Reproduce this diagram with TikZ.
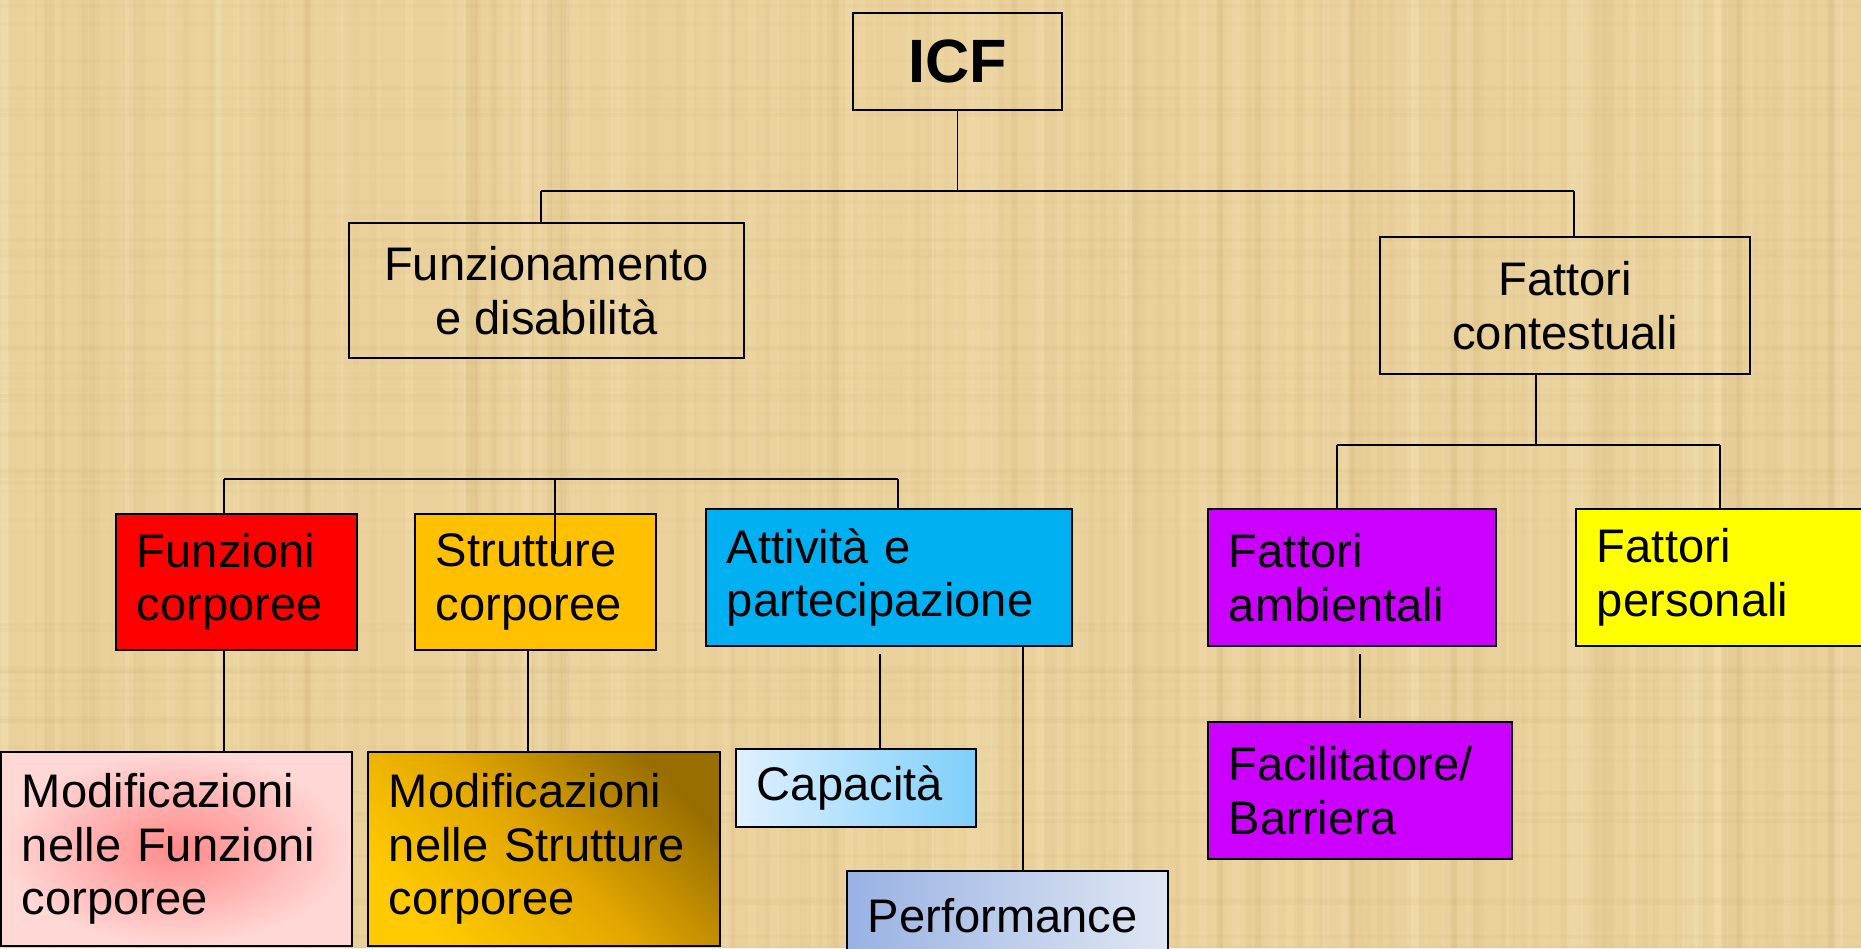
\documentclass[tikz,border=0pt]{standalone}
\usepackage{fontspec}
\setmainfont{Liberation Sans}
\usetikzlibrary{positioning,calc}

\definecolor{papiro}{RGB}{234,209,155}
\definecolor{papiroscuro}{RGB}{190,158,98}
\definecolor{papirochiaro}{RGB}{250,236,195}
\definecolor{rosso}{RGB}{255,0,0}
\definecolor{arancio}{RGB}{255,192,0}
\definecolor{azzurro}{RGB}{0,176,240}
\definecolor{viola}{RGB}{204,0,255}
\definecolor{giallo}{RGB}{255,255,0}
\definecolor{rosachiaro}{RGB}{255,216,214}
\definecolor{rosa}{RGB}{255,138,138}
\definecolor{oro1}{RGB}{255,202,0}
\definecolor{oro3}{RGB}{226,166,0}
\definecolor{oro4}{RGB}{152,110,0}
\definecolor{celeste1}{RGB}{224,241,255}
\definecolor{celeste2}{RGB}{126,207,250}
\definecolor{lavanda1}{RGB}{153,178,227}
\definecolor{lavanda2}{RGB}{224,231,243}

\tikzstyle{blocco} = [rectangle, draw=black, line width=0.6pt, inner xsep=0.21cm, inner ysep=0pt,
align=left, font=\fontsize{13.4pt}{15.2pt}\selectfont]
\tikzstyle{titolo} = [blocco, align=center]
\tikzstyle{linea} = [line width=0.5pt]

\begin{document}
\begin{tikzpicture}[x=0.01cm, y=-0.01cm]
\useasboundingbox (0,0) rectangle (1861,948);
\clip (0,0) rectangle (1861,948);

% sfondo papiro
\fill[papiro] (0,0) rectangle (1861,948);
\pgfmathsetseed{11}
\foreach \k in {1,...,170}{
	\pgfmathsetmacro{\xa}{random(0,1861)}
	\pgfmathsetmacro{\op}{0.03+0.07*rnd}
	\draw[papiroscuro, opacity=\op, line width=1.6pt] (\xa,0) -- (\xa,948);
}
\foreach \k in {1,...,140}{
	\pgfmathsetmacro{\xa}{random(0,1861)}
	\pgfmathsetmacro{\op}{0.05+0.15*rnd}
	\draw[papirochiaro, opacity=\op, line width=2.4pt] (\xa,0) -- (\xa,948);
}
\foreach \k in {1,...,60}{
	\pgfmathsetmacro{\ya}{random(0,948)}
	\pgfmathsetmacro{\op}{0.02+0.06*rnd}
	\draw[papiroscuro, opacity=\op, line width=1.4pt] (0,\ya) -- (1861,\ya);
}

% nodi
\node (icf) at (957.5,61.5) [blocco, minimum width=2.09cm, minimum height=0.97cm,
	font=\fontsize{17.4pt}{20pt}\selectfont\bfseries] {ICF};
\node (fd) at (546.5,290.5) [titolo, minimum width=3.95cm, minimum height=1.35cm] {Funzionamento\\e disabilità};
\node (fc) at (1565,305.5) [titolo, minimum width=3.70cm, minimum height=1.37cm] {Fattori\\contestuali};

\node (fcorp) at (236.5,582) [blocco, fill=rosso, minimum width=2.41cm, minimum height=1.36cm, text width=1.99cm] {Funzioni\\corporee};
\node (scorp) at (535.5,582) [blocco, fill=arancio, minimum width=2.41cm, minimum height=1.36cm, text width=1.99cm] {Strutture\\corporee};
\node (att) at (889,577.5) [blocco, fill=azzurro, minimum width=3.66cm, minimum height=1.37cm, text width=3.24cm] {Attività e\\partecipazione};
\node (amb) at (1352,577.5) [blocco, fill=viola, minimum width=2.88cm, minimum height=1.37cm, text width=2.46cm] {Fattori\\ambientali};
\node (pers) at (1723,577.5) [blocco, fill=giallo, minimum width=2.94cm, minimum height=1.37cm, text width=2.52cm] {Fattori\\personali};

\node (modf) at (176.5,849) [blocco, inner color=rosa, outer color=rosachiaro, minimum width=3.51cm, minimum height=1.94cm, text width=3.09cm] {Modificazioni\\nelle~Funzioni\\corporee};
\node (mods) at (544,849) [blocco, top color=oro4, bottom color=oro1, middle color=oro3, shading angle=-45, minimum width=3.52cm, minimum height=1.94cm, text width=3.10cm] {Modificazioni\\nelle~Strutture\\corporee};
\node (cap) at (856,788) [blocco, left color=celeste1, right color=celeste2, minimum width=2.40cm, minimum height=0.78cm, text width=1.98cm] {Capacità};
\node (perf) at (1007.5,916) [blocco, left color=lavanda1, right color=lavanda2, minimum width=3.21cm, minimum height=0.90cm, text width=2.79cm] {Performance};
\node (facil) at (1360,790.5) [blocco, fill=viola, minimum width=3.04cm, minimum height=1.37cm, text width=2.62cm] {Facilitatore/\\Barriera};

% collegamenti
\coordinate (busL) at (541,191);
\coordinate (busR) at (1574,191);
\draw[linea] (icf) -- (icf |- busL);
\draw[linea] (busL) -- (busR);
\draw[linea] (busL) -- (busL |- fd.north);
\draw[linea] (busR) -- (busR |- fc.north);

\coordinate (b1) at (224,479);
\coordinate (b2) at (898,479);
\coordinate (b3) at (555,479);
\coordinate (punta) at (555,554);
\draw[linea] (b1) -- (b2);
\draw[linea] (b1) -- (b1 |- fcorp.north);
\draw[linea] (b3) -- (punta);
\draw[linea] (b2) -- (b2 |- att.north);

\coordinate (c0) at (1536,445);
\coordinate (c1) at (1337,445);
\coordinate (c2) at (1720,445);
\draw[linea] (fc.south -| c0) -- (c0);
\draw[linea] (c1) -- (c2);
\draw[linea] (c1) -- (c1 |- amb.north);
\draw[linea] (c2) -- (c2 |- pers.north);

\draw[linea] ([xshift=-0.125cm]fcorp.south) -- ([xshift=-0.125cm]fcorp.south |- modf.north);
\draw[linea] ([xshift=-0.075cm]scorp.south) -- ([xshift=-0.075cm]scorp.south |- mods.north);
\draw[linea] ([shift={(-0.09cm,-0.07cm)}]att.south) -- ([xshift=-0.09cm]att.south |- cap.north);
\draw[linea] ([xshift=1.34cm]att.south) -- ([xshift=1.34cm]att.south |- perf.north);
\draw[linea] ([shift={(0.08cm,-0.07cm)}]amb.south) -- ([shift={(0.08cm,0.03cm)}]amb.south |- facil.north);
\end{tikzpicture}
\end{document}
